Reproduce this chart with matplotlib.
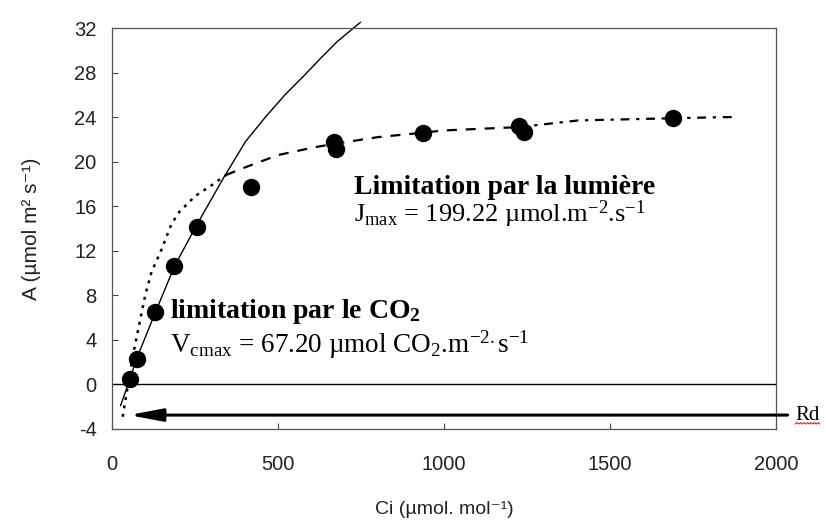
import matplotlib
matplotlib.use("Agg")
import matplotlib.pyplot as plt
import numpy as np

plt.rcParams['font.family'] = ['Liberation Sans', 'DejaVu Sans']
plt.rcParams['mathtext.fontset'] = 'custom'
plt.rcParams['mathtext.rm'] = 'Liberation Serif'
plt.rcParams['mathtext.it'] = 'Liberation Serif:italic'
plt.rcParams['mathtext.bf'] = 'Liberation Serif:bold'
plt.rcParams['axes.unicode_minus'] = False

# measured points
ci_obs = [54, 74, 131, 188, 256, 420, 670, 675, 936, 1225, 1240, 1690]
a_obs = [0.5, 2.3, 6.5, 10.6, 14.1, 17.7, 21.8, 21.1, 22.6, 23.2, 22.7, 23.9]

# CO2 (Rubisco) limited curve
ci_co2 = [26, 54, 74, 131, 188, 253, 337, 402, 462, 521, 581, 629, 679, 748]
a_co2 = [-1.9, 0.5, 2.3, 6.5, 10.6, 14.2, 18.6, 21.8, 24.0, 26.0, 27.8, 29.3, 30.8, 32.5]

# light limited curve, in three pieces (dotted / dashed / dash-dot)
ci_light1 = [32, 40, 63, 100, 119, 149, 179, 203, 250, 301, 343]
a_light1 = [-2.9, -1.5, 2.6, 8.0, 10.1, 12.1, 14.4, 15.5, 16.9, 17.9, 18.8]
ci_light2 = [343, 402, 501, 611, 670, 800, 936, 998, 1147, 1225]
a_light2 = [18.8, 19.5, 20.6, 21.3, 21.6, 22.2, 22.6, 22.8, 23.0, 23.1]
ci_light3 = [1225, 1404, 1690, 1851, 1880]
a_light3 = [23.1, 23.7, 23.9, 24.0, 24.0]

rd_level = -2.75
xticks = [0, 500, 1000, 1500, 2000]
yticks = [-4, 0, 4, 8, 12, 16, 20, 24, 28, 32]

W, H = 826, 522
fig = plt.figure(figsize=(W / 100, H / 100), dpi=100)
ax = fig.add_axes([112 / W, 1 - 429 / H, (776 - 112) / W, (429 - 28) / H])

ax.plot(ci_co2, a_co2, color='black', lw=1.0, clip_on=False)
ax.plot(ci_light1, a_light1, color='black', lw=1.8, ls=(0, (1.2, 2.2)))
ax.plot(ci_light2, a_light2, color='black', lw=1.6, ls=(0, (4.5, 4)))
ax.plot(ci_light3, a_light3, color='black', lw=1.6, ls=(0, (4, 3, 1.5, 3)))
ax.plot(ci_obs, a_obs, 'o', color='black', ms=11.5, zorder=5)

ax.axhline(0, color='black', lw=1.0)

# Rd arrow
ax.annotate('', xy=(51, rd_level), xytext=(2035, rd_level),
            arrowprops=dict(arrowstyle='-|>,head_length=2.0,head_width=0.38',
                            lw=2.2, color='black', shrinkA=0, shrinkB=0),
            annotation_clip=False)
ax.text(2058, rd_level, 'Rd', family='Liberation Serif', fontsize=15,
        va='center', ha='left', clip_on=False)
# red squiggle under Rd (spell-check mark)
zx = np.linspace(2058, 2132, 15)
zy = rd_level - 0.8 + 0.12 * (np.arange(15) % 2)
ax.plot(zx, zy, color='#d02030', lw=0.8, clip_on=False)

ax.text(729, 17.1, 'Limitation par la lumière', family='Liberation Serif',
        fontweight='bold', fontsize=20, ha='left', va='baseline')
ax.text(729, 14.6, r'J$_{\mathrm{max}}$ = 199.22 µmol.m$^{\mathrm{-2}}$.s$^{\mathrm{-1}}$',
        family='Liberation Serif', fontsize=19, ha='left', va='baseline')
ax.text(174, 6.0, r'limitation par le CO$_{\mathbf{2}}$', family='Liberation Serif',
        fontweight='bold', fontsize=20, ha='left', va='baseline')
ax.text(174, 2.9, r'V$_{\mathrm{cmax}}$ = 67.20 µmol CO$_{\mathrm{2}}$.m$^{\mathrm{-2.}}$s$^{\mathrm{-1}}$',
        family='Liberation Serif', fontsize=19.5, ha='left', va='baseline')

ax.set_xlim(0, 2000)
ax.set_ylim(-4, 32)
ax.set_xticks(xticks)
ax.set_yticks(yticks)
ax.tick_params(axis='both', direction='in', length=4, width=0.8,
               labelsize=14.5, labelcolor='#222222', color='#444444')
ax.tick_params(axis='x', pad=19)
ax.tick_params(axis='y', pad=11)
for s in ax.spines.values():
    s.set_color('#555555')
    s.set_linewidth(0.9)

ax.set_xlabel('Ci (µmol. mol⁻¹)', fontsize=14, color='#222222', labelpad=19)
ax.set_ylabel('A (µmol m² s⁻¹)', fontsize=15, color='#222222', labelpad=24)

fig.savefig('out.png', dpi=100)
